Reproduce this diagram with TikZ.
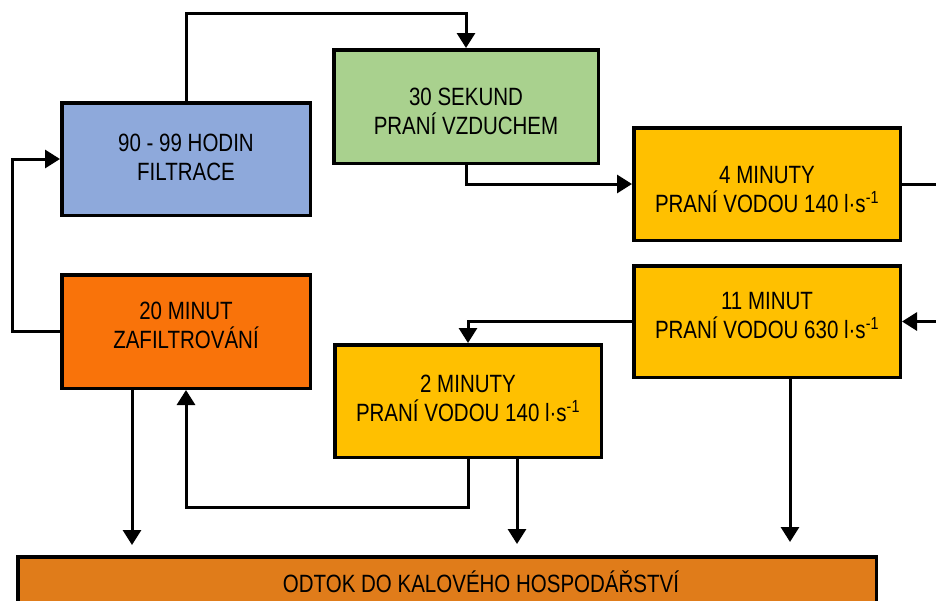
\documentclass[tikz,border=0pt]{standalone}
\usepackage{fontspec}
\setmainfont[FakeStretch=0.82]{Liberation Sans}
\usetikzlibrary{arrows.meta}
\definecolor{cblue}{RGB}{142,169,219}
\definecolor{cgreen}{RGB}{169,209,142}
\definecolor{cgold}{RGB}{255,192,0}
\definecolor{corange}{RGB}{249,115,10}
\definecolor{cdrain}{RGB}{224,124,26}
\begin{document}
\begin{tikzpicture}[x=1pt,y=-1pt,
  box/.style={draw=black, line width=3.5pt, inner sep=0pt},
  lbl/.style={align=center, inner sep=0pt, font=\fontsize{25}{29}\selectfont},
  conn/.style={line width=3pt, -{Triangle[length=15pt,width=18pt]}}]
\useasboundingbox (0,0) rectangle (936,600);
\clip (0,0) rectangle (936,600);
% boxes
\node[box, fill=cblue, minimum width=248.5pt, minimum height=112.5pt,
  label={[lbl, name=filtt, yshift=2pt]center:{90 - 99 HODIN\\FILTRACE}}] (filt) at (186,159) {};
\node[box, fill=cgreen, minimum width=264.5pt, minimum height=113.5pt,
  label={[lbl, name=airt, yshift=-4.5pt]center:{30 SEKUND\\PRANÍ VZDUCHEM}}] (air) at (466,106.5) {};
\node[box, fill=cgold, minimum width=266.5pt, minimum height=112.5pt,
  label={[lbl, name=m4t, yshift=-6pt]center:{4 MINUTY\\PRANÍ VODOU 140 l·s\textsuperscript{-1}}}] (m4) at (767,184) {};
\node[box, fill=cgold, minimum width=266.5pt, minimum height=111.5pt,
  label={[lbl, name=m11t, yshift=6pt]center:{11 MINUT\\PRANÍ VODOU 630 l·s\textsuperscript{-1}}}] (m11) at (767,321.5) {};
\node[box, fill=cgold, minimum width=266.5pt, minimum height=112.5pt,
  label={[lbl, name=m2t, yshift=3pt]center:{2 MINUTY\\PRANÍ VODOU 140 l·s\textsuperscript{-1}}}] (m2) at (468,401) {};
\node[box, fill=corange, minimum width=248.5pt, minimum height=113.5pt,
  label={[lbl, name=m20t, yshift=6pt]center:{20 MINUT\\ZAFILTROVÁNÍ}}] (m20) at (186,331.5) {};
\node[box, fill=cdrain, minimum width=858.5pt, minimum height=90pt] (drain) at (447,601.75) {};
\node[lbl] (drainlbl) at (481,581.5) {ODTOK DO KALOVÉHO HOSPODÁŘSTVÍ};
% connectors
\draw[conn] (filt.north) -- ++(0,-88) -| (air.north);
\draw[conn] (air.south) |- (m4.west);
\draw[conn] (m4.east) -- ++(60,0) |- (m11.east);
\draw[conn] (m11.west) -| (m2.north);
\draw[conn, shorten >=13pt] ([xshift=23pt]m11.south) -- ([xshift=23pt]m11.south |- drain.north);
\draw[conn] (m2.south) -- ++(0,48) -| (m20.south);
\draw[conn, shorten >=11pt] ([xshift=49pt]m2.south) -- ([xshift=49pt]m2.south |- drain.north);
\draw[conn, shorten >=10pt] ([xshift=-54pt]m20.south) -- ([xshift=-54pt]m20.south |- drain.north);
\draw[conn] (m20.west) -- ++(-48,0) |- (filt.west);
\end{tikzpicture}
\end{document}
